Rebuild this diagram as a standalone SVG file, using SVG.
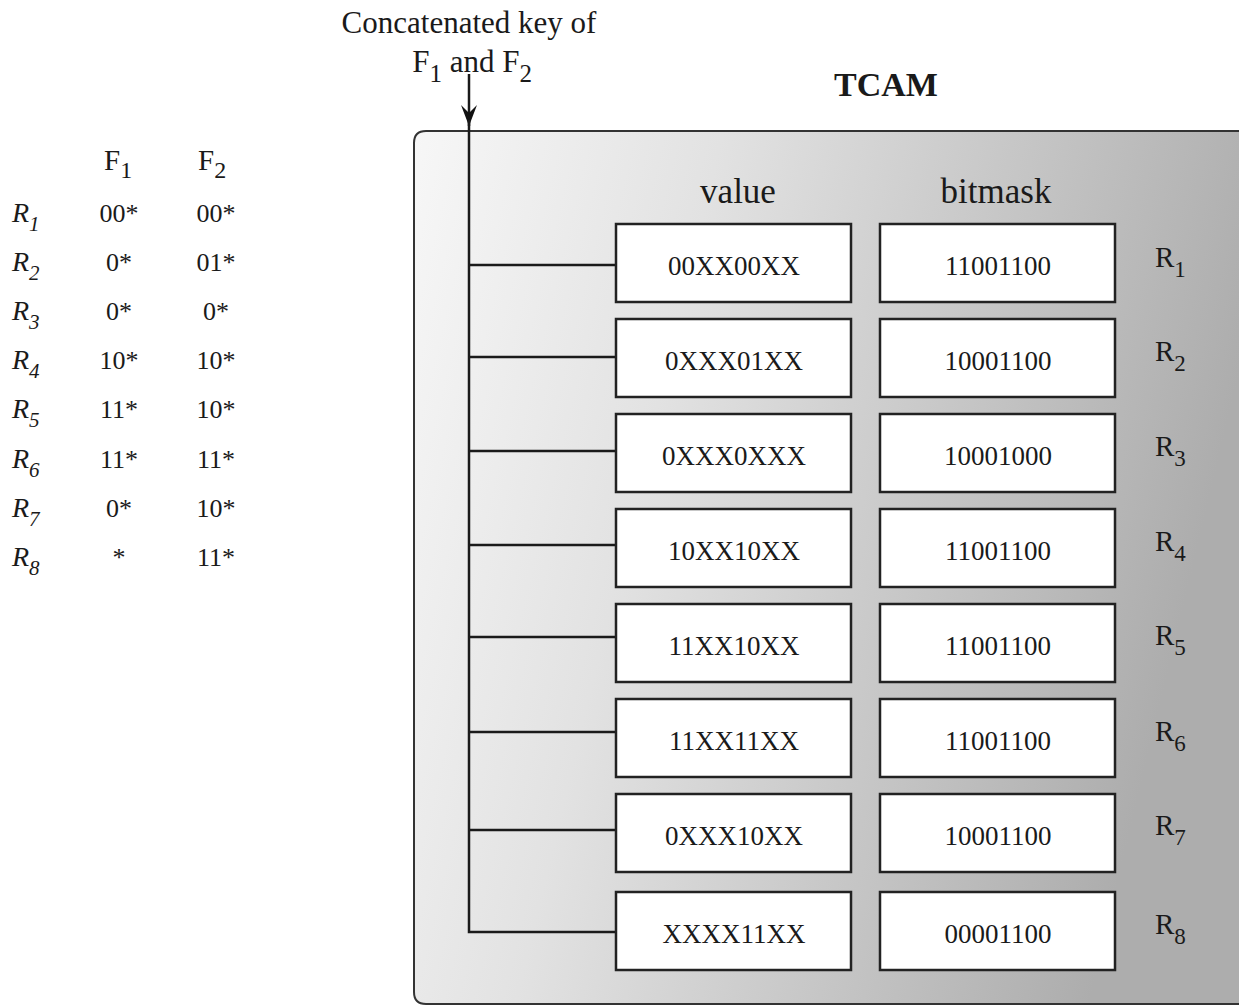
<svg xmlns="http://www.w3.org/2000/svg" width="1239" height="1008" viewBox="0 0 1239 1008">
<defs>
<linearGradient id="bg" x1="0" y1="0" x2="1" y2="0.25">
<stop offset="0" stop-color="#f7f7f7"/>
<stop offset="0.35" stop-color="#e2e2e2"/>
<stop offset="1" stop-color="#adadad"/>
</linearGradient>
<marker id="arr" markerWidth="24" markerHeight="18" refX="22" refY="9" orient="auto" markerUnits="userSpaceOnUse">
<path d="M1,1 L22,9 L1,17 L9,9 Z" fill="#111"/>
</marker>
</defs>
<style>
text{font-family:"Liberation Serif","DejaVu Serif",serif;fill:#1a1a1a}
.t{font-size:26px}
.it{font-style:italic;font-size:28px}
.bx{fill:#fff;stroke:#222;stroke-width:2.5}
.bt{font-size:27px;text-anchor:middle}
.hd{font-size:35px;text-anchor:middle}
.c{stroke:#1a1a1a;stroke-width:2.5;fill:none}
.rl{font-size:29px}
</style>
<g id="table">
<text x="104" y="170" font-size="29">F<tspan font-size="24" dy="8">1</tspan></text>
<text x="198" y="170" font-size="29">F<tspan font-size="24" dy="8">2</tspan></text>
<g>
<text class="it" x="12" y="222">R<tspan font-size="21" dy="9">1</tspan></text>
<text class="it" x="12" y="271">R<tspan font-size="21" dy="9">2</tspan></text>
<text class="it" x="12" y="320">R<tspan font-size="21" dy="9">3</tspan></text>
<text class="it" x="12" y="369">R<tspan font-size="21" dy="9">4</tspan></text>
<text class="it" x="12" y="418">R<tspan font-size="21" dy="9">5</tspan></text>
<text class="it" x="12" y="468">R<tspan font-size="21" dy="9">6</tspan></text>
<text class="it" x="12" y="517">R<tspan font-size="21" dy="9">7</tspan></text>
<text class="it" x="12" y="566">R<tspan font-size="21" dy="9">8</tspan></text>
</g>
<g class="t" text-anchor="middle">
<text x="119" y="222">00*</text><text x="216" y="222">00*</text>
<text x="119" y="271">0*</text><text x="216" y="271">01*</text>
<text x="119" y="320">0*</text><text x="216" y="320">0*</text>
<text x="119" y="369">10*</text><text x="216" y="369">10*</text>
<text x="119" y="418">11*</text><text x="216" y="418">10*</text>
<text x="119" y="468">11*</text><text x="216" y="468">11*</text>
<text x="119" y="517">0*</text><text x="216" y="517">10*</text>
<text x="119" y="566">*</text><text x="216" y="566">11*</text>
</g>
</g>
<g id="key-label">
<text x="469" y="33" font-size="31" text-anchor="middle">Concatenated key of</text>
<text x="472" y="72" font-size="31" text-anchor="middle">F<tspan font-size="25" dy="10">1</tspan><tspan dy="-10"> and F</tspan><tspan font-size="25" dy="10">2</tspan></text>
</g>
<g id="tcam">
<path d="M1245,131 L426,131 Q414,131 414,143 L414,992 Q414,1004 426,1004 L1245,1004" fill="url(#bg)" stroke="#333" stroke-width="2"/>
<text x="886" y="96" font-size="34" font-weight="bold" text-anchor="middle">TCAM</text>
<text class="hd" x="738" y="203">value</text>
<text class="hd" x="996" y="203">bitmask</text>
</g>
<g id="connectors">
<line class="c" x1="469" y1="74" x2="469" y2="126" marker-end="url(#arr)"/>
<polyline class="c" points="469,120 469,932 616,932"/>
<line class="c" x1="469" y1="265" x2="616" y2="265"/>
<line class="c" x1="469" y1="357" x2="616" y2="357"/>
<line class="c" x1="469" y1="451" x2="616" y2="451"/>
<line class="c" x1="469" y1="545" x2="616" y2="545"/>
<line class="c" x1="469" y1="637" x2="616" y2="637"/>
<line class="c" x1="469" y1="732" x2="616" y2="732"/>
<line class="c" x1="469" y1="830" x2="616" y2="830"/>
</g>
<g id="row1"><rect class="bx" x="616" y="224" width="235" height="78"/><rect class="bx" x="880" y="224" width="235" height="78"/>
<text class="bt" x="734" y="275">00XX00XX</text><text class="bt" x="998" y="275">11001100</text>
<text class="rl" x="1155" y="267">R<tspan font-size="23" dy="10">1</tspan></text></g>
<g id="row2"><rect class="bx" x="616" y="319" width="235" height="78"/><rect class="bx" x="880" y="319" width="235" height="78"/>
<text class="bt" x="734" y="370">0XXX01XX</text><text class="bt" x="998" y="370">10001100</text>
<text class="rl" x="1155" y="361">R<tspan font-size="23" dy="10">2</tspan></text></g>
<g id="row3"><rect class="bx" x="616" y="414" width="235" height="78"/><rect class="bx" x="880" y="414" width="235" height="78"/>
<text class="bt" x="734" y="465">0XXX0XXX</text><text class="bt" x="998" y="465">10001000</text>
<text class="rl" x="1155" y="456">R<tspan font-size="23" dy="10">3</tspan></text></g>
<g id="row4"><rect class="bx" x="616" y="509" width="235" height="78"/><rect class="bx" x="880" y="509" width="235" height="78"/>
<text class="bt" x="734" y="560">10XX10XX</text><text class="bt" x="998" y="560">11001100</text>
<text class="rl" x="1155" y="551">R<tspan font-size="23" dy="10">4</tspan></text></g>
<g id="row5"><rect class="bx" x="616" y="604" width="235" height="78"/><rect class="bx" x="880" y="604" width="235" height="78"/>
<text class="bt" x="734" y="655">11XX10XX</text><text class="bt" x="998" y="655">11001100</text>
<text class="rl" x="1155" y="645">R<tspan font-size="23" dy="10">5</tspan></text></g>
<g id="row6"><rect class="bx" x="616" y="699" width="235" height="78"/><rect class="bx" x="880" y="699" width="235" height="78"/>
<text class="bt" x="734" y="750">11XX11XX</text><text class="bt" x="998" y="750">11001100</text>
<text class="rl" x="1155" y="741">R<tspan font-size="23" dy="10">6</tspan></text></g>
<g id="row7"><rect class="bx" x="616" y="794" width="235" height="78"/><rect class="bx" x="880" y="794" width="235" height="78"/>
<text class="bt" x="734" y="845">0XXX10XX</text><text class="bt" x="998" y="845">10001100</text>
<text class="rl" x="1155" y="835">R<tspan font-size="23" dy="10">7</tspan></text></g>
<g id="row8"><rect class="bx" x="616" y="892" width="235" height="78"/><rect class="bx" x="880" y="892" width="235" height="78"/>
<text class="bt" x="734" y="943">XXXX11XX</text><text class="bt" x="998" y="943">00001100</text>
<text class="rl" x="1155" y="934">R<tspan font-size="23" dy="10">8</tspan></text></g>
</svg>
